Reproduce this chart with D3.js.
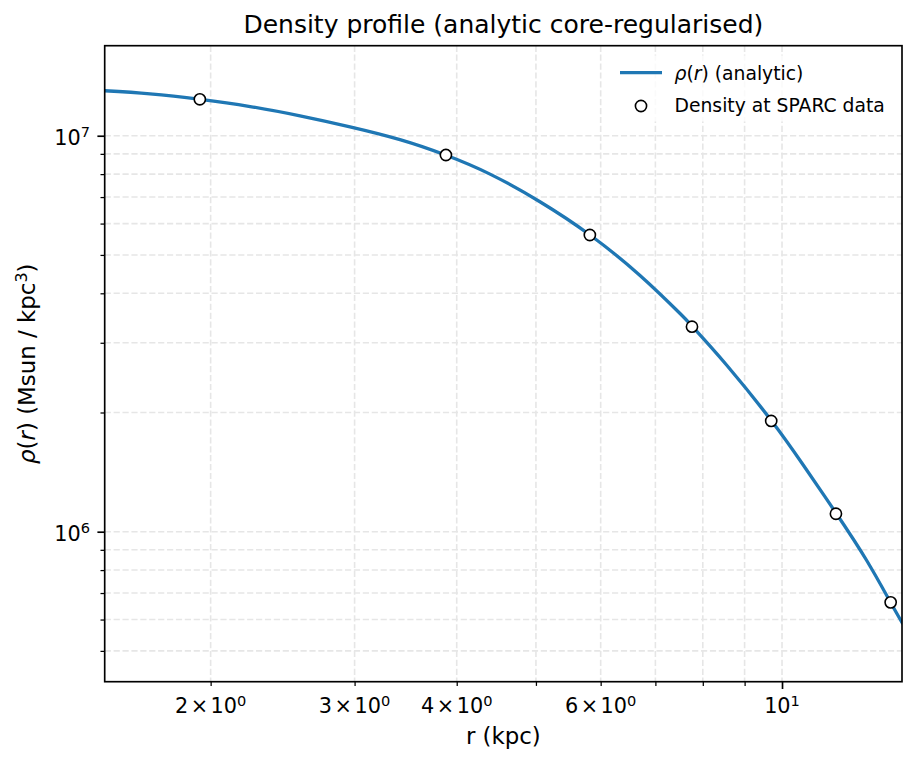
<!DOCTYPE html>
<html>
<head>
<meta charset="utf-8">
<script src="https://cdn.jsdelivr.net/npm/d3@7"></script>
<style>
  body { margin: 0; background: #fff; }
  svg { display: block; font-family: "DejaVu Sans", sans-serif; }
</style>
</head>
<body>
<script>
// analytic profile (r in kpc, rho in Msun/kpc^3)
const rCurve = [1.484, 1.686, 1.9425, 2.2353, 2.5724, 2.9614, 3.409, 3.8763, 4.3933, 5.0566, 5.8226,
  6.7033, 7.5036, 7.7723, 8.554, 9.7124, 10.616, 11.658, 12.694, 13.574, 14.021]
const rhoCurve = [1.2991e7, 1.2759e7, 1.2357e7, 1.1852e7, 1.1226e7, 1.0531e7, 9.776e6, 8.939e6, 7.999e6, 6.813e6, 5.615e6,
  4.437e6, 3.556e6, 3.294e6, 2.636e6, 1.9035e6, 1.4738e6, 1.1103e6, 8.459e5, 6.633e5, 5.898e5]

// density at the SPARC radii
const rData = [1.94, 3.88, 5.82, 7.76, 9.70, 11.64, 13.58]
const rhoData = [1.236e7, 8.939e6, 5.615e6, 3.294e6, 1.904e6, 1.110e6, 6.63e5]

// ticks
const xMajor = [10]
const xMinor = [2, 3, 4, 5, 6, 7, 8, 9]
const xLabelVals = [2, 3, 4, 6, 10]
const xLabelMant = ['2', '3', '4', '6', '']
const xLabelExp = ['0', '0', '0', '0', '1']
const yMajor = [1e6, 1e7]
const yLabelExp = ['6', '7']
const yMinor = [5e5, 6e5, 7e5, 8e5, 9e5, 2e6, 3e6, 4e6, 5e6, 6e6, 7e6, 8e6, 9e6]

const box = { width: 917, height: 767, left: 104.7, right: 902, top: 45.7, bottom: 681.7 }
const blue = '#1f77b4'

const svg = d3.select('body').append('svg').attr('width', box.width).attr('height', box.height)

const x = d3.scaleLog().domain([1.484, 14.021]).range([box.left, box.right])
const y = d3.scaleLog().domain([4.18e5, 1.688e7]).range([box.bottom, box.top])

svg.append('defs').append('clipPath').attr('id', 'plotclip')
  .append('rect').attr('x', box.left).attr('y', box.top)
  .attr('width', box.right - box.left).attr('height', box.bottom - box.top)

// grid (major + minor)
const grid = svg.append('g').attr('class', 'grid')
  .attr('stroke', '#e6e6e6').attr('stroke-width', 1.6).attr('stroke-dasharray', '6.2,2.7')
grid.selectAll('line.gx').data(xMinor.concat(xMajor)).join('line')
  .attr('class', 'gx')
  .attr('x1', d => x(d)).attr('x2', d => x(d)).attr('y1', box.top).attr('y2', box.bottom)
grid.selectAll('line.gy').data(yMinor.concat(yMajor)).join('line')
  .attr('class', 'gy')
  .attr('x1', box.left).attr('x2', box.right).attr('y1', d => y(d)).attr('y2', d => y(d))

// x axis ticks
const xaxis = svg.append('g').attr('transform', `translate(0,${box.bottom})`)
xaxis.append('g').attr('class', 'maj').call(d3.axisBottom(x).tickValues(xMajor).tickSize(7.3).tickFormat(''))
xaxis.append('g').attr('class', 'min').call(d3.axisBottom(x).tickValues(xMinor).tickSize(4.2).tickFormat(''))
xaxis.selectAll('.domain').remove()
xaxis.selectAll('.tick line').attr('stroke', '#000')
xaxis.select('.maj').selectAll('.tick line').attr('stroke-width', 1.67)
xaxis.select('.min').selectAll('.tick line').attr('stroke-width', 1.25)

const xlab = xaxis.append('g').selectAll('text').data(xLabelVals).join('text')
  .attr('x', d => x(d)).attr('y', 31.6)
  .attr('text-anchor', 'middle').attr('font-size', 20.8).attr('fill', '#000')
xlab.each(function (d, i) {
  const t = d3.select(this)
  if (xLabelMant[i]) {
    t.append('tspan').text(xLabelMant[i])
    t.append('tspan').attr('dx', 2.5).text('\u00d7')
    t.append('tspan').attr('dx', 2.5).text('10')
  } else {
    t.append('tspan').text('10')
  }
  t.append('tspan').attr('dy', -7.4).attr('font-size', 14.6).text(xLabelExp[i])
})

// y axis ticks
const yaxis = svg.append('g').attr('transform', `translate(${box.left},0)`)
yaxis.append('g').attr('class', 'maj').call(d3.axisLeft(y).tickValues(yMajor).tickSize(7.3).tickFormat(''))
yaxis.append('g').attr('class', 'min').call(d3.axisLeft(y).tickValues(yMinor).tickSize(4.2).tickFormat(''))
yaxis.selectAll('.domain').remove()
yaxis.selectAll('.tick line').attr('stroke', '#000')
yaxis.select('.maj').selectAll('.tick line').attr('stroke-width', 1.67)
yaxis.select('.min').selectAll('.tick line').attr('stroke-width', 1.25)

const ylab = yaxis.append('g').selectAll('text').data(yMajor).join('text')
  .attr('x', -14.7).attr('y', d => y(d) + 9)
  .attr('text-anchor', 'end').attr('font-size', 20.8).attr('fill', '#000')
ylab.each(function (d, i) {
  const t = d3.select(this)
  t.append('tspan').text('10')
  t.append('tspan').attr('dy', -7.4).attr('font-size', 14.6).text(yLabelExp[i])
})

// curve
const line = d3.line().x(d => x(d[0])).y(d => y(d[1])).curve(d3.curveNatural)
svg.append('path')
  .attr('clip-path', 'url(#plotclip)')
  .attr('d', line(d3.zip(rCurve, rhoCurve)))
  .attr('fill', 'none').attr('stroke', blue).attr('stroke-width', 3.3)
  .attr('stroke-linecap', 'square')

// data points
svg.append('g').selectAll('circle').data(d3.zip(rData, rhoData)).join('circle')
  .attr('cx', d => x(d[0])).attr('cy', d => y(d[1])).attr('r', 5.6)
  .attr('fill', '#fff').attr('stroke', '#000').attr('stroke-width', 1.6)

// spines
svg.append('rect')
  .attr('x', box.left).attr('y', box.top)
  .attr('width', box.right - box.left).attr('height', box.bottom - box.top)
  .attr('fill', 'none').attr('stroke', '#000').attr('stroke-width', 1.67)

// title and axis labels
const cx = (box.left + box.right) / 2
svg.append('text').attr('x', cx).attr('y', 33.2).attr('text-anchor', 'middle')
  .attr('font-size', 25).text('Density profile (analytic core-regularised)')

svg.append('text').attr('x', cx).attr('y', 743.5).attr('text-anchor', 'middle')
  .attr('font-size', 22.9).text('r (kpc)')

const yl = svg.append('text')
  .attr('transform', `translate(35,${(box.top + box.bottom) / 2}) rotate(-90)`)
  .attr('text-anchor', 'middle').attr('font-size', 22.9)
yl.append('tspan').attr('font-style', 'italic').text('\u03c1')
yl.append('tspan').text('(')
yl.append('tspan').attr('font-style', 'italic').text('r')
yl.append('tspan').text(') (Msun / kpc')
yl.append('tspan').attr('dy', -8.2).attr('font-size', 16).text('3')
yl.append('tspan').attr('dy', 8.2).text(')')

// legend
const lg = svg.append('g')
lg.append('rect').attr('x', 611).attr('y', 55.5).attr('width', 282).attr('height', 66)
  .attr('fill', '#fff').attr('fill-opacity', 0.8)
lg.append('line').attr('x1', 620).attr('x2', 662).attr('y1', 72.7).attr('y2', 72.7)
  .attr('stroke', blue).attr('stroke-width', 3.3)
const l1 = lg.append('text').attr('x', 674.5).attr('y', 79.5).attr('font-size', 18.75)
l1.append('tspan').attr('font-style', 'italic').text('\u03c1')
l1.append('tspan').text('(')
l1.append('tspan').attr('font-style', 'italic').text('r')
l1.append('tspan').text(') (analytic)')
lg.append('circle').attr('cx', 641).attr('cy', 106).attr('r', 5.6)
  .attr('fill', '#fff').attr('stroke', '#000').attr('stroke-width', 1.6)
lg.append('text').attr('x', 674.5).attr('y', 112).attr('font-size', 18.75).text('Density at SPARC data')
</script>
</body>
</html>
